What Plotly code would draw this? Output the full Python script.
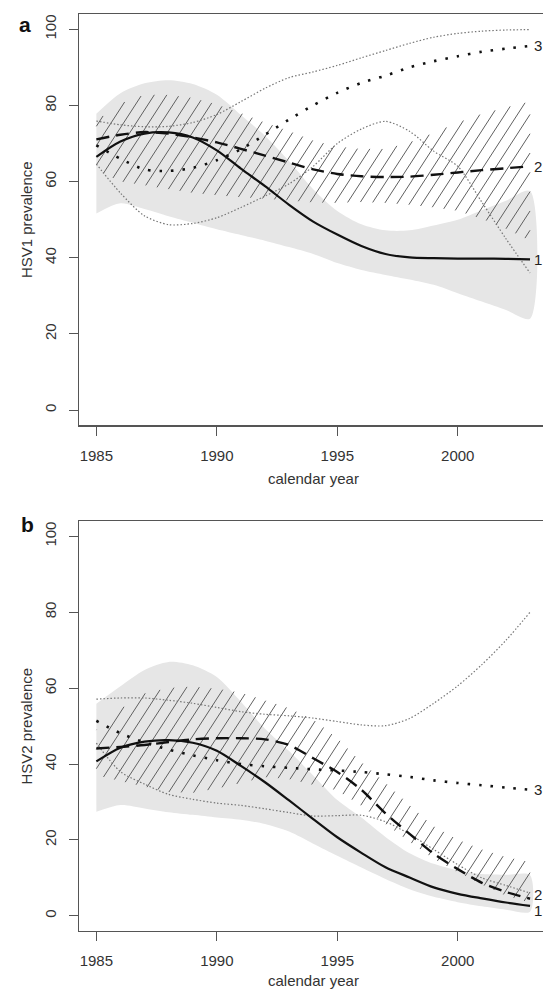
import numpy as np
import plotly.graph_objects as go

years = list(range(1985, 2004))

# ---------------- Panel a: HSV1 prevalence ----------------
a_line1 = [66.5, 70.5, 72.6, 72.9, 71.6, 68.2, 63.4, 58.8, 53.9, 49.5, 46.1, 43.1, 41.0, 40.1, 39.9, 39.8, 39.8, 39.7, 39.6]
a_line2 = [71.1, 72.3, 73.0, 72.6, 71.6, 70.3, 68.6, 66.8, 65.0, 63.2, 62.0, 61.4, 61.2, 61.3, 61.8, 62.4, 63.0, 63.5, 64.0]
a_line3 = [69.5, 66.0, 63.2, 62.8, 63.6, 65.6, 68.5, 72.3, 76.3, 80.0, 83.3, 85.9, 87.8, 90.0, 91.6, 92.9, 94.1, 94.9, 95.6]
a_ci3_hi = [75.9, 74.9, 74.4, 74.5, 75.5, 77.6, 81.0, 84.5, 87.3, 88.8, 90.5, 92.5, 94.4, 96.3, 97.9, 98.9, 99.5, 99.8, 99.9]
a_ci3_lo = [64.6, 57.0, 51.0, 48.7, 49.0, 50.5, 53.2, 56.2, 59.4, 64.0, 70.0, 73.8, 75.8, 73.2, 68.0, 64.0, 54.6, 45.0, 36.0]
a_ci1_hi = [77.8, 83.2, 85.8, 86.6, 85.6, 82.8, 77.5, 72.0, 65.4, 58.0, 52.3, 48.8, 47.2, 47.2, 48.5, 50.0, 52.5, 55.0, 57.5]
a_ci1_lo = [51.6, 54.3, 52.8, 50.9, 49.2, 47.5, 46.0, 44.5, 42.8, 41.0, 38.6, 36.8, 35.5, 34.3, 32.9, 30.7, 28.5, 26.3, 24.0]
a_ci2_hi = [76.0, 80.5, 82.8, 82.8, 82.0, 80.3, 78.0, 75.5, 73.3, 70.8, 69.2, 68.6, 68.6, 70.3, 72.8, 75.5, 77.8, 79.5, 81.0]
a_ci2_lo = [63.0, 60.0, 59.0, 58.0, 57.0, 56.4, 55.9, 55.5, 55.0, 54.5, 54.4, 54.6, 54.4, 53.9, 53.2, 52.3, 50.2, 47.6, 44.5]

# ---------------- Panel b: HSV2 prevalence ----------------
b_line1 = [40.7, 44.3, 45.9, 46.3, 45.6, 43.5, 39.5, 35.2, 30.4, 25.5, 20.7, 16.6, 12.8, 10.1, 7.5, 5.8, 4.6, 3.5, 2.6]
b_line2 = [44.1, 44.5, 45.0, 45.8, 46.5, 46.8, 46.8, 46.5, 45.0, 41.5, 37.9, 33.2, 27.0, 21.6, 16.4, 12.3, 8.7, 6.3, 4.5]
b_line3 = [51.4, 48.1, 45.7, 43.8, 42.3, 41.0, 40.0, 39.4, 39.0, 38.6, 38.3, 37.9, 37.3, 36.6, 35.7, 35.0, 34.4, 33.8, 33.2]
b_ci3_hi = [57.1, 57.4, 57.4, 56.8, 56.0, 54.9, 53.8, 53.1, 52.7, 52.1, 51.2, 50.3, 50.1, 52.0, 56.0, 60.6, 66.2, 72.6, 80.0]
b_ci3_lo = [45.5, 38.0, 34.7, 32.0, 30.7, 29.7, 29.1, 28.2, 27.2, 26.3, 26.4, 26.5, 24.8, 21.5, 17.5, 13.5, 10.0, 8.0, 6.0]
b_ci1_hi = [55.9, 60.5, 64.8, 66.9, 66.0, 62.9, 56.4, 49.3, 43.4, 37.0, 30.5, 25.9, 20.8, 16.5, 13.7, 12.0, 11.0, 10.8, 10.7]
b_ci1_lo = [27.4, 29.2, 28.3, 27.3, 26.6, 25.9, 25.3, 24.2, 22.2, 19.0, 15.8, 12.7, 9.7, 7.0, 5.0, 3.6, 2.5, 1.6, 1.1]
b_ci2_hi = [49.0, 54.5, 58.6, 60.1, 60.4, 59.9, 58.8, 56.8, 54.7, 51.8, 46.8, 40.5, 35.0, 29.2, 23.6, 20.1, 17.5, 15.5, 14.2]
b_ci2_lo = [37.0, 35.5, 34.0, 32.6, 32.4, 33.5, 35.0, 36.5, 36.0, 34.5, 33.0, 29.0, 24.2, 19.5, 15.0, 11.5, 8.2, 5.3, 3.4]

x_ticks = [1985, 1990, 1995, 2000]
y_ticks = [0, 20, 40, 60, 80, 100]
curve_labels = ["1", "2", "3"]

# ---------------- layout geometry (page body margin removed via post_script) ----------------
W, H = 543, 991
S_LEFT, S_RIGHT = 78.6, 543.0
S_TOP, S_BOT = 13.8, 930.9
ML = S_LEFT
MR = W - S_RIGHT
MT = S_TOP
MB = H - S_BOT
plot_w = W - ML - MR
plot_h = H - MT - MB
PX_PER_YR = 24.115
X_LEFT = 1984.28
XR = [X_LEFT, X_LEFT + plot_w / PX_PER_YR]
YR = [-4, 104]
dom_a = [(S_BOT - 425.2) / plot_h, 1.0]
dom_b = [0.0, (S_BOT - 521.0) / plot_h]
ppu_a = (dom_a[1] - dom_a[0]) * plot_h / (YR[1] - YR[0])
ppu_b = (dom_b[1] - dom_b[0]) * plot_h / (YR[1] - YR[0])

FONT = "Liberation Sans, Arial, sans-serif"
TXT = "#333333"
AX = "#555555"
GRAYFILL = "#e6e6e6"

fig = go.Figure()


def hatch_segments(t, lo, hi, px_per_unit, angle=57, spacing_yr=0.52):
    k = np.tan(np.radians(angle)) * PX_PER_YR / px_per_unit
    tt = np.linspace(t[0], t[-1], 4000)
    lo_i = np.interp(tt, t, lo)
    hi_i = np.interp(tt, t, hi)
    xs, ys = [], []
    c = t[0] - 110 / k
    while c < t[-1]:
        v = k * (tt - c)
        inside = (v >= lo_i) & (v <= hi_i)
        if inside.any():
            idx = np.where(inside)[0]
            breaks = np.where(np.diff(idx) > 1)[0]
            starts = np.concatenate([[idx[0]], idx[breaks + 1]])
            ends = np.concatenate([idx[breaks], [idx[-1]]])
            for s, e in zip(starts, ends):
                if e > s:
                    xs += [tt[s], tt[e], None]
                    ys += [v[s], v[e], None]
        c += spacing_yr
    return xs, ys


def add_panel(xa, ya, l1, l2, l3, c3h, c3l, c1h, c1l, c2h, c2l, px_per_unit):
    t = np.array(years, dtype=float)
    fig.add_trace(go.Scatter(
        x=years + years[::-1], y=c1h + c1l[::-1], xaxis=xa, yaxis=ya,
        fill="toself", fillcolor=GRAYFILL, mode="lines",
        line=dict(width=0, color=GRAYFILL, shape="spline", smoothing=0.8),
        hoverinfo="skip", showlegend=False))
    hx, hy = hatch_segments(t, np.array(c2l), np.array(c2h), px_per_unit)
    fig.add_trace(go.Scatter(
        x=hx, y=hy, xaxis=xa, yaxis=ya, mode="lines",
        line=dict(width=1, color="#606060"), hoverinfo="skip", showlegend=False))
    for arr in (c3h, c3l):
        fig.add_trace(go.Scatter(
            x=years, y=arr, xaxis=xa, yaxis=ya, mode="lines",
            line=dict(width=1.2, color="#777777", dash="1.5px,2px",
                      shape="spline", smoothing=0.8),
            hoverinfo="skip", showlegend=False))
    fig.add_trace(go.Scatter(
        x=years, y=l3, xaxis=xa, yaxis=ya, mode="lines",
        line=dict(width=2.6, color="#111111", dash="2.5px,9px",
                  shape="spline", smoothing=0.8),
        hoverinfo="skip", showlegend=False))
    fig.add_trace(go.Scatter(
        x=years, y=l2, xaxis=xa, yaxis=ya, mode="lines",
        line=dict(width=2.4, color="#111111", dash="13px,7px",
                  shape="spline", smoothing=0.8),
        hoverinfo="skip", showlegend=False))
    fig.add_trace(go.Scatter(
        x=years, y=l1, xaxis=xa, yaxis=ya, mode="lines",
        line=dict(width=2.2, color="#111111", shape="spline", smoothing=0.8),
        hoverinfo="skip", showlegend=False))


add_panel("x", "y", a_line1, a_line2, a_line3, a_ci3_hi, a_ci3_lo,
          a_ci1_hi, a_ci1_lo, a_ci2_hi, a_ci2_lo, ppu_a)
add_panel("x2", "y2", b_line1, b_line2, b_line3, b_ci3_hi, b_ci3_lo,
          b_ci1_hi, b_ci1_lo, b_ci2_hi, b_ci2_lo, ppu_b)

xax = dict(range=XR, tickmode="array", tickvals=x_ticks,
           ticktext=[str(v) for v in x_ticks], ticks="outside", ticklen=9,
           tickwidth=1, tickcolor=AX, showline=True, linecolor=AX, linewidth=1.3,
           mirror=True, showgrid=False, zeroline=False, automargin=False,
           ticklabelstandoff=7,
           tickfont=dict(family=FONT, size=15, color=TXT), fixedrange=True)
yax = dict(range=YR, tickmode="array", tickvals=y_ticks,
           ticktext=[str(v) for v in y_ticks], ticks="outside", ticklen=9,
           tickwidth=1, tickcolor=AX, showline=True, linecolor=AX, linewidth=1.3,
           mirror=False, showgrid=False, zeroline=False, tickangle=-90, automargin=False,
           ticklabelstandoff=7,
           tickfont=dict(family=FONT, size=15, color=TXT), fixedrange=True)

fig.update_layout(
    template="none",
    width=W, height=H,
    margin=dict(l=ML, r=MR, t=MT, b=MB, pad=0, autoexpand=False),
    paper_bgcolor="white", plot_bgcolor="white",
    showlegend=False,
    hovermode=False,
    xaxis=dict(xax, domain=[0, 1], anchor="y"),
    yaxis=dict(yax, domain=dom_a, anchor="x"),
    xaxis2=dict(xax, domain=[0, 1], anchor="y2"),
    yaxis2=dict(yax, domain=dom_b, anchor="x2"),
)


def py(sy):
    return (S_BOT - sy) / plot_h


def pxx(sx):
    return (sx - S_LEFT) / plot_w


ann = []
ann.append(dict(text="<b>a</b>", x=pxx(25), y=py(24.5), xref="paper", yref="paper",
                showarrow=False, font=dict(family=FONT, size=21, color="#111"),
                xanchor="center", yanchor="middle"))
ann.append(dict(text="<b>b</b>", x=pxx(27), y=py(524), xref="paper", yref="paper",
                showarrow=False, font=dict(family=FONT, size=21, color="#111"),
                xanchor="center", yanchor="middle"))
for ytxt, ycen, xcen_y in (("HSV1 prevalence", 219.5, 478.5), ("HSV2 prevalence", 726, 980.5)):
    ann.append(dict(text=ytxt, x=pxx(26), y=py(ycen), xref="paper", yref="paper",
                    showarrow=False, textangle=-90,
                    font=dict(family=FONT, size=15, color=TXT),
                    xanchor="center", yanchor="middle"))
    ann.append(dict(text="calendar year", x=pxx(313), y=py(xcen_y), xref="paper", yref="paper",
                    showarrow=False, font=dict(family=FONT, size=15, color=TXT),
                    xanchor="center", yanchor="middle"))

label_x = X_LEFT + (532.0 - S_LEFT) / PX_PER_YR
for ya, ends, nudges in (("y", [a_line1[-1], a_line2[-1], a_line3[-1]], [0, 0, 0]),
                         ("y2", [b_line1[-1], b_line2[-1], b_line3[-1]], [-1.2, 1.2, 0])):
    for lab, v, dv in zip(curve_labels, ends, nudges):
        ann.append(dict(text=lab, x=label_x, y=v + dv, xref="x" if ya == "y" else "x2", yref=ya,
                        showarrow=False, font=dict(family=FONT, size=15, color="#222222"),
                        xanchor="left", yanchor="middle"))
fig.update_layout(annotations=ann)

fig.write_html("out.html",
               config={"displayModeBar": False, "staticPlot": True},
               post_script="document.body.style.margin='0';document.body.style.overflow='hidden';")
